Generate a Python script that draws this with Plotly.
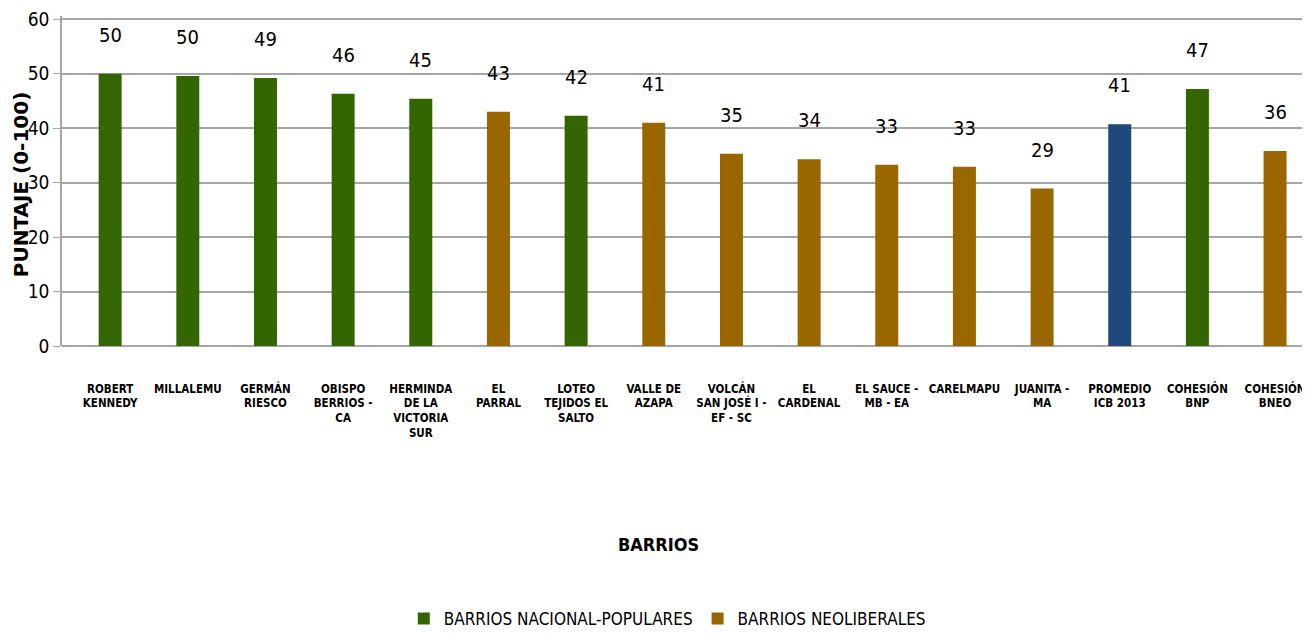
import plotly.graph_objects as go

categories = ["ROBERT<br>KENNEDY", "MILLALEMU", "GERMÁN<br>RIESCO", "OBISPO<br>BERRIOS -<br>CA",
              "HERMINDA<br>DE LA<br>VICTORIA<br>SUR", "EL<br>PARRAL", "LOTEO<br>TEJIDOS EL<br>SALTO",
              "VALLE DE<br>AZAPA", "VOLCÁN<br>SAN JOSÉ I -<br>EF - SC", "EL<br>CARDENAL",
              "EL SAUCE -<br>MB - EA", "CARELMAPU", "JUANITA -<br>MA", "PROMEDIO<br>ICB 2013",
              "COHESIÓN<br>BNP", "COHESIÓN<br>BNEO"]
values = [50.0, 49.6, 49.2, 46.3, 45.4, 43.0, 42.3, 41.0, 35.3, 34.3, 33.3, 32.9, 28.9, 40.7, 47.2, 35.8]
groups = ["NP", "NP", "NP", "NP", "NP", "NEO", "NP", "NEO", "NEO", "NEO", "NEO", "NEO", "NEO", "AVG", "NP", "NEO"]
y_ticks = [0, 10, 20, 30, 40, 50, 60]

series_names = {"NP": "BARRIOS NACIONAL-POPULARES", "NEO": "BARRIOS NEOLIBERALES", "AVG": "PROMEDIO"}
colors = {"NP": "#336600", "NEO": "#996600", "AVG": "#1F497D"}

NARROW = "DejaVu Sans Condensed, Liberation Sans Narrow, Arial Narrow, sans-serif"

fig = go.Figure()
for g in ["NP", "NEO", "AVG"]:
    xs = [c for c, gg in zip(categories, groups) if gg == g]
    ys = [v for v, gg in zip(values, groups) if gg == g]
    fig.add_trace(go.Bar(x=xs, y=ys, name=series_names[g], marker_color=colors[g],
                         marker_line_width=0, width=0.296, showlegend=(g != "AVG")))

for c, v in zip(categories, values):
    fig.add_annotation(x=c, y=v, text=f"{v:.0f}", showarrow=False, yshift=39,
                       yanchor="middle", font=dict(family=NARROW, size=20, color="#000000"))

fig.add_annotation(text="<b>BARRIOS</b>", xref="paper", yref="paper", x=0.478, y=-0.602,
                   xanchor="center", yanchor="middle",
                   showarrow=False, font=dict(family=NARROW, size=18, color="#000000"))
fig.add_annotation(text="<b>PUNTAJE (0-100)</b>", xref="paper", yref="paper", x=-0.0329, y=0.49,
                   xanchor="center", yanchor="middle",
                   textangle=-90, showarrow=False, font=dict(family="DejaVu Sans", size=20, color="#000000"))

fig.update_layout(
    width=1302, height=629,
    margin=dict(l=54, r=0, t=5, b=289),
    plot_bgcolor="white", paper_bgcolor="white",
    barmode="overlay",
    legend=dict(orientation="h", x=0.485, y=-0.83, xanchor="center", yanchor="middle",
                font=dict(family=NARROW, size=17, color="#000000"), itemwidth=30,
                traceorder="normal"),
    xaxis=dict(type="category", categoryorder="array", categoryarray=categories,
               range=[-0.62, 15.45], showgrid=False, showline=False, ticks="",
               tickangle=0, ticklabelstandoff=34,
               tickfont=dict(family=NARROW, size=11.5, color="#000000", weight=700)),
    yaxis=dict(range=[0, 60.6], tickvals=y_ticks, showgrid=True, ticklabeloverflow="allow",
               gridcolor="#A6A6A6", gridwidth=1.5,
               showline=True, linecolor="#A6A6A6", linewidth=1.5, ticks="outside", ticklen=7,
               tickcolor="#A6A6A6", zeroline=True, zerolinecolor="#A6A6A6", zerolinewidth=1.5,
               tickfont=dict(family=NARROW, size=19, color="#000000")),
)

fig.write_html("out.html")
